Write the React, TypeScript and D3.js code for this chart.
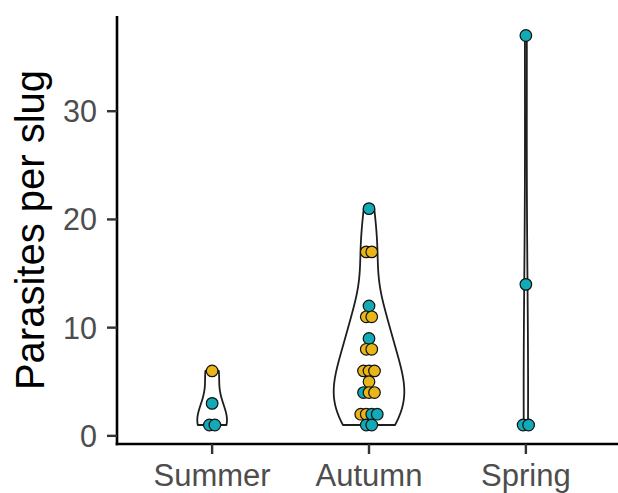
import React from "react";
import * as d3 from "d3";

const categories = ["Summer", "Autumn", "Spring"];

const summerValues = [6, 3, 1, 1];
const summerGroups = ["B", "A", "A", "A"];

const autumnValues = [21, 17, 17, 12, 11, 11, 9, 8, 8, 6, 6, 6, 5, 4, 4, 4, 2, 2, 2, 2, 1, 1];
const autumnGroups = ["A", "B", "B", "A", "B", "B", "A", "B", "B", "B", "B", "B", "B", "A", "B", "B", "B", "B", "A", "A", "A", "A"];

const springValues = [37, 14, 1, 1];
const springGroups = ["A", "A", "A", "A"];

const yTicks = [0, 10, 20, 30];
const groupColors: Record<string, string> = { A: "#12AAB6", B: "#E8B619" };

const seriesValues = [summerValues, autumnValues, springValues];
const seriesGroups = [summerGroups, autumnGroups, springGroups];

const W = 618;
const H = 493;
const FONT = "'Liberation Sans', Arial, Helvetica, sans-serif";

function bwNrd0(v: number[]) {
  const s = [...v].sort((a, b) => a - b);
  const sd = d3.deviation(s) || 0;
  const iqr = (d3.quantile(s, 0.75)! - d3.quantile(s, 0.25)!) / 1.34;
  let lo = Math.min(sd, iqr);
  if (!(lo > 0)) lo = sd || Math.abs(s[0]) || 1;
  return 0.9 * lo * Math.pow(s.length, -0.2);
}

function kde(v: number[]) {
  const bw = bwNrd0(v);
  const n = v.length;
  const lo = d3.min(v)!;
  const hi = d3.max(v)!;
  const grid = d3.range(512).map((i) => lo + ((hi - lo) * i) / 511);
  return grid.map((g) => {
    let s = 0;
    for (const x of v) {
      const z = (g - x) / bw;
      s += Math.exp(-0.5 * z * z) / Math.sqrt(2 * Math.PI);
    }
    const dens = s / (n * bw);
    return { y: g, w: dens * n }; // scale = "count"
  });
}

export default function App() {
  const x = d3.scalePoint<string>().domain(categories).range([118, 620]).padding(0.6);
  const step = x.step();
  const y = d3.scaleLinear().domain([-0.8, 38.8]).range([444.5, 16]);

  const dens = seriesValues.map(kde);
  const globalMax = d3.max(dens.flat(), (d) => d.w)!;
  const maxHalf = 0.225 * step;

  const violinPath = (ci: number) => {
    const cx = x(categories[ci])!;
    const d = dens[ci];
    const right = d.map((p) => [cx + (p.w / globalMax) * maxHalf, y(p.y)] as [number, number]);
    const left = [...d].reverse().map((p) => [cx - (p.w / globalMax) * maxHalf, y(p.y)] as [number, number]);
    return d3.line()([...right, ...left]) + "Z";
  };

  const dotSpacing = 5.5;
  const dots: { cx: number; cy: number; fill: string; key: string }[] = [];
  seriesValues.forEach((vals, ci) => {
    const cx = x(categories[ci])!;
    const counts = new Map<number, number>();
    vals.forEach((v) => counts.set(v, (counts.get(v) || 0) + 1));
    const seen = new Map<number, number>();
    vals.forEach((v, i) => {
      const k = counts.get(v)!;
      const idx = seen.get(v) || 0;
      seen.set(v, idx + 1);
      const off = (idx - (k - 1) / 2) * dotSpacing;
      dots.push({ cx: cx + off, cy: y(v), fill: groupColors[seriesGroups[ci][i]], key: `${ci}-${i}` });
    });
  });

  const axisX = 117;
  const axisY = 444;

  return (
    <svg width={W} height={H} style={{ position: "absolute", left: 0, top: 0, background: "#fff" }} fontFamily={FONT}>
      <rect x={0} y={0} width={W} height={H} fill="#fff" />
      {categories.map((c, ci) => (
        <path key={c} d={violinPath(ci)} fill="#fff" stroke="#1e1e1e" strokeWidth={1.8} strokeLinejoin="round" />
      ))}
      {dots.map((d) => (
        <circle key={d.key} cx={d.cx} cy={d.cy} r={5.8} fill={d.fill} stroke="#111" strokeWidth={1.2} />
      ))}
      {/* axes */}
      <line x1={axisX} x2={axisX} y1={16} y2={axisY + 1.3} stroke="#000" strokeWidth={2.6} />
      <line x1={axisX - 1.3} x2={W} y1={axisY} y2={axisY} stroke="#000" strokeWidth={2.6} />
      {yTicks.map((t) => (
        <g key={t}>
          <line x1={axisX - 10} x2={axisX} y1={y(t)} y2={y(t)} stroke="#333" strokeWidth={2.4} />
          <text x={axisX - 20} y={y(t)} dy="0.36em" textAnchor="end" fontSize={30.5} fill="#4D4D4D">
            {t}
          </text>
        </g>
      ))}
      {categories.map((c) => (
        <g key={c}>
          <line x1={x(c)} x2={x(c)} y1={axisY} y2={axisY + 10} stroke="#333" strokeWidth={2.4} />
          <text x={x(c)} y={486} textAnchor="middle" fontSize={31} fill="#4D4D4D">
            {c}
          </text>
        </g>
      ))}
      <text
        transform={`translate(44, 230) rotate(-90)`}
        textAnchor="middle"
        fontSize={40}
        fill="#000"
      >
        Parasites per slug
      </text>
    </svg>
  );
}
